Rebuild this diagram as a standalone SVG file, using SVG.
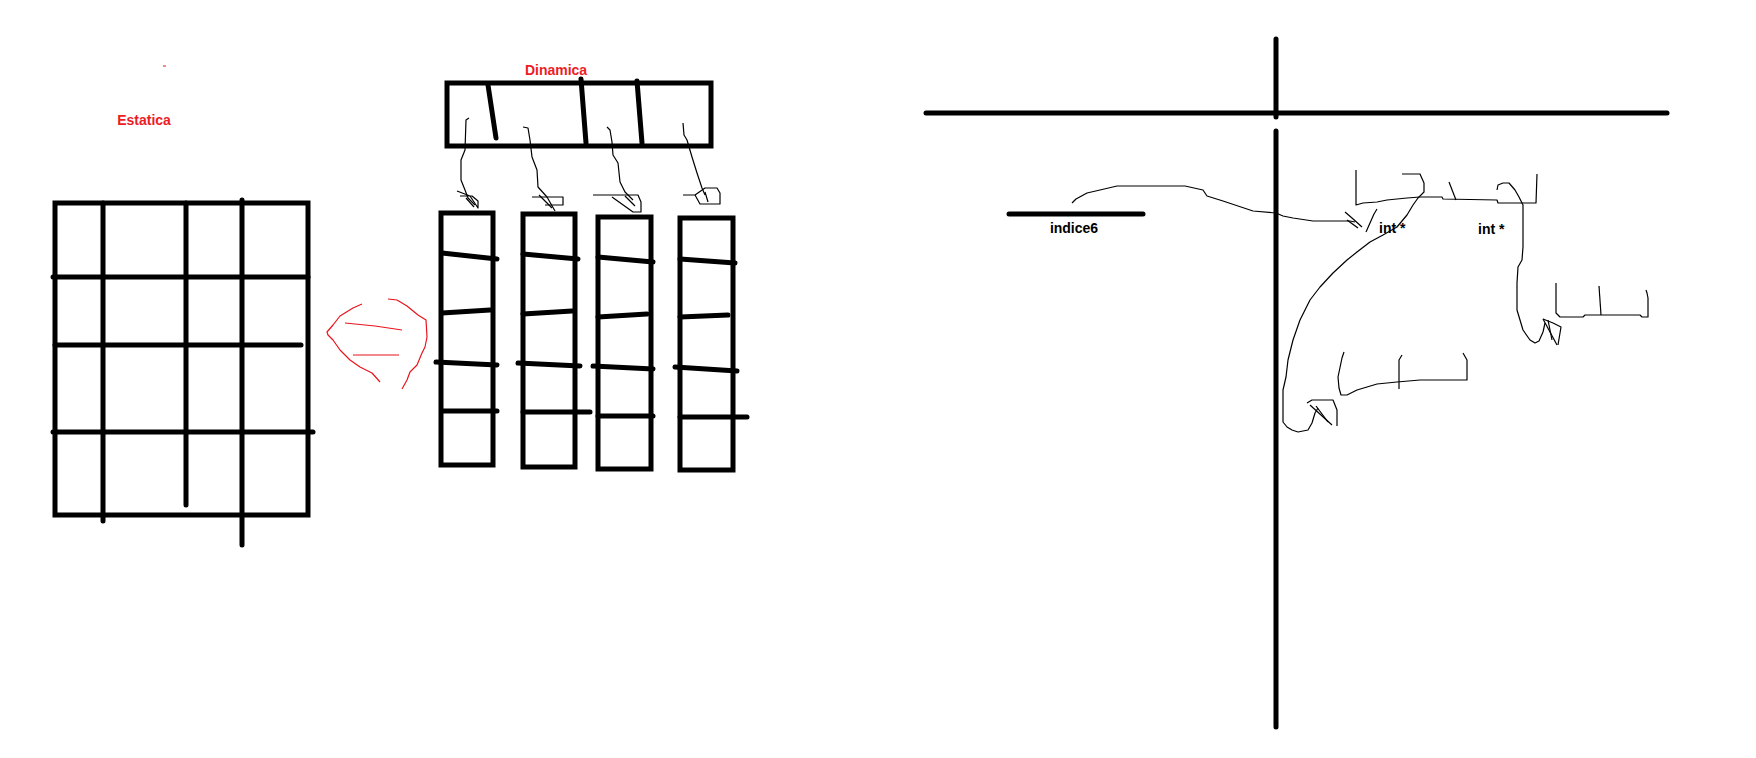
<svg xmlns="http://www.w3.org/2000/svg" width="1756" height="758" viewBox="0 0 1756 758">
<style>
.thick{fill:none;stroke:#000;stroke-width:5;stroke-linecap:round}
.box{fill:none;stroke:#000;stroke-width:5}
.thin{fill:none;stroke:#000;stroke-width:1.2;stroke-linejoin:round}
.red{fill:none;stroke:#e8141c;stroke-width:1.2;stroke-linejoin:round}
.lbl{font-family:"Liberation Sans",Arial,sans-serif;font-weight:bold;font-size:14px}
.redlbl{fill:#ed1c24}
</style>
<rect width="1756" height="758" fill="#fff"/>

<g id="estatica">
  <text class="lbl redlbl" x="144" y="125" text-anchor="middle">Estatica</text>
  <line x1="163" y1="66" x2="166" y2="66" stroke="#e8141c" stroke-width="1"/>
  <rect class="box" x="55" y="203" width="253" height="312"/>
  <line class="thick" x1="103" y1="203" x2="103" y2="521"/>
  <line class="thick" x1="186" y1="203" x2="186" y2="505"/>
  <line class="thick" x1="242" y1="200" x2="242" y2="545"/>
  <line class="thick" x1="53" y1="277" x2="308" y2="277"/>
  <line class="thick" x1="55" y1="345" x2="301" y2="345"/>
  <line class="thick" x1="53" y1="432" x2="313" y2="432"/>
</g>

<g id="arrow-red">
  <polyline class="red" points="362,304 353,308 340,316 333,325 327,332 328,335 333,340 340,350 350,360 360,367 372,373 380,382"/>
  <polyline class="red" points="388,299 397,300 407,306 418,315 426,320 427,337 425,347 422,353 417,365 410,372 407,380 402,389"/>
  <polyline class="red" points="345,323 375,326 402,330"/>
  <polyline class="red" points="353,355 399,355"/>
</g>

<g id="dinamica">
  <text class="lbl redlbl" x="556" y="75" text-anchor="middle">Dinamica</text>
  <rect class="box" x="447" y="83" width="264" height="63"/>
  <line class="thick" x1="488" y1="85" x2="496" y2="138"/>
  <line class="thick" x1="581" y1="79" x2="586" y2="143"/>
  <line class="thick" x1="637" y1="81" x2="642" y2="143"/>
</g>

<g id="col1">
  <rect class="box" x="441" y="213" width="52" height="252"/>
  <line class="thick" x1="442" y1="253" x2="497" y2="259"/>
  <line class="thick" x1="442" y1="313" x2="490" y2="310"/>
  <line class="thick" x1="436" y1="362" x2="497" y2="365"/>
  <line class="thick" x1="442" y1="411" x2="497" y2="411"/>
</g>
<g id="col2">
  <rect class="box" x="523" y="214" width="52" height="253"/>
  <line class="thick" x1="523" y1="254" x2="578" y2="259"/>
  <line class="thick" x1="523" y1="314" x2="572" y2="311"/>
  <line class="thick" x1="518" y1="363" x2="580" y2="366"/>
  <line class="thick" x1="523" y1="412" x2="590" y2="412"/>
</g>
<g id="col3">
  <rect class="box" x="598" y="217" width="53" height="252"/>
  <line class="thick" x1="598" y1="257" x2="653" y2="262"/>
  <line class="thick" x1="598" y1="317" x2="647" y2="314"/>
  <line class="thick" x1="593" y1="366" x2="653" y2="369"/>
  <line class="thick" x1="598" y1="416" x2="653" y2="416"/>
</g>
<g id="col4">
  <rect class="box" x="680" y="218" width="53" height="252"/>
  <line class="thick" x1="680" y1="259" x2="735" y2="263"/>
  <line class="thick" x1="680" y1="317" x2="728" y2="315"/>
  <line class="thick" x1="675" y1="367" x2="737" y2="371"/>
  <line class="thick" x1="680" y1="417" x2="747" y2="417"/>
</g>

<g id="axes">
  <line class="thick" x1="926" y1="113" x2="1667" y2="113"/>
  <line class="thick" x1="1276" y1="39" x2="1276" y2="117"/>
  <line class="thick" x1="1276" y1="131" x2="1276" y2="727"/>
  <line class="thick" x1="1009" y1="214" x2="1143" y2="214"/>
</g>

<g id="labels-right">
  <text class="lbl" x="1074" y="233" text-anchor="middle">indice6</text>
  <text class="lbl" x="1379" y="233">int *</text>
  <text class="lbl" x="1478" y="234">int *</text>
</g>

<g id="brackets">
  <polyline class="thin" points="1356,170 1356,205 1363,203 1377,202 1387,200 1397,199 1407,198 1420,197 1442,197 1443,199 1497,200 1498,203 1536,203 1537,174"/>
  <polyline class="thin" points="1449,182 1456,200"/>
  <polyline class="thin" points="1556,283 1556,313 1560,317 1583,317 1585,315 1640,315 1642,317 1648,317 1648,298 1647,293 1646,290"/>
  <polyline class="thin" points="1599,286 1601,315"/>
  <polyline class="thin" points="1344,352 1342,358 1338,377 1339,388 1341,395 1347,395 1357,390 1367,387 1377,384 1387,383 1397,382 1420,380 1467,380 1467,360 1463,353"/>
  <polyline class="thin" points="1402,355 1399,360 1399,389"/>
</g>

<g id="connectors">
  <!-- dinamica to columns -->
  <polyline class="thin" points="469,118 466,120 465,150 461,160 461,180 465,190 468,198 475,205"/>
  <polyline class="thin" points="457,191 470,196 478,208 478,201 472,196 460,196"/>
  <polyline class="thin" points="466,198 474,207"/>
  <polyline class="thin" points="523,127 528,128 530,140 532,157 537,170 538,187 547,197 555,211"/>
  <polyline class="thin" points="532,197 563,197 563,205 545,205"/>
  <polyline class="thin" points="539,195 552,208"/>
  <polyline class="thin" points="607,127 610,130 612,142 613,155 618,163 620,182 625,192 633,200"/>
  <polyline class="thin" points="593,195 638,195 641,202 641,212 633,212 612,197"/>
  <polyline class="thin" points="625,196 635,206"/>
  <polyline class="thin" points="683,123 684,135 687,140 692,157 697,173 702,188 705,195"/>
  <polyline class="thin" points="683,195 695,195 700,204 720,204 720,193 717,188 705,188 695,195"/>
  <polyline class="thin" points="705,192 708,202"/>
  <!-- indice6 to int* -->
  <polyline class="thin" points="1072,203 1076,199 1087,193 1100,190 1117,186 1185,186 1203,190 1207,196 1223,201 1253,211 1276,213 1283,216 1293,218 1313,221 1350,221 1355,222"/>
  <polyline class="thin" points="1345,212 1352,218 1362,227"/>
  <polyline class="thin" points="1347,220 1358,228"/>
  <polyline class="thin" points="1377,209 1374,214 1366,232"/>
  <!-- int* curves down -->
  <polyline class="thin" points="1402,174 1420,174 1424,183 1424,192 1418,198 1413,205 1407,215 1397,227 1383,235 1370,242 1357,252 1347,260 1333,273 1320,287 1310,300 1300,320 1293,340 1288,360 1286,377 1283,390 1283,422 1287,427 1292,430 1298,432 1308,430 1312,423 1315,413 1318,408"/>
  <polyline class="thin" points="1307,403 1312,400 1333,400 1337,410 1337,426"/>
  <polyline class="thin" points="1310,405 1332,425"/>
  <polyline class="thin" points="1316,406 1328,422"/>
  <polyline class="thin" points="1497,190 1498,185 1503,183 1509,183 1515,190 1519,197 1523,205 1523,247 1522,260 1518,267 1517,283 1517,310 1520,320 1523,330 1530,340 1535,343 1539,341 1543,332 1545,323"/>
  <polyline class="thin" points="1543,319 1553,323 1561,327 1558,345"/>
  <polyline class="thin" points="1543,319 1557,345"/>
  <polyline class="thin" points="1548,320 1552,340"/>
</g>
</svg>
